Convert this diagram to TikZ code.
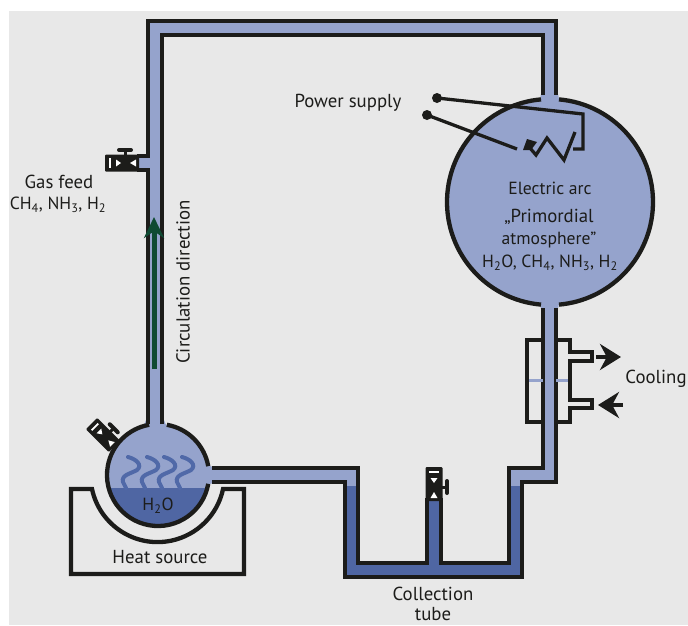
\documentclass[tikz,border=0pt]{standalone}
\usepackage{fontspec}
\setmainfont{PT Sans}
\usetikzlibrary{arrows.meta}
\definecolor{paper}{HTML}{E8E8E8}
\definecolor{gas}{HTML}{95A3CC}
\definecolor{water}{HTML}{4F66A3}
\definecolor{flame}{HTML}{5069A8}
\definecolor{ink}{HTML}{1C1C1A}
\definecolor{flow}{HTML}{0F4A33}
\newcommand{\ttap}{%
  \fill[ink,rounded corners=1pt] (-8.5,-17) rectangle (8.5,17);
  \draw[ink,line width=3pt] (7,3) -- (12,3);
  \draw[ink,line width=4pt,line cap=round] (13,-3) -- (13,9);
  \fill[white] (-5,-13) rectangle (5,-11);
  \fill[white] (-3.5,-6) -- (3.5,-6) -- (0,-1) -- cycle;
  \fill[white] (-3.5,14) -- (3.5,14) -- (0,8) -- cycle;
}
\begin{document}
\begin{tikzpicture}[
  x=1pt,y=-1pt,
  wall/.style={ink,line width=4.3pt,line join=miter},
  wire/.style={ink,line width=3.3pt},
  label/.style={text=ink,font=\fontsize{18.8}{20}\selectfont,inner sep=0pt},
  gasline/.style={text=ink,font=\fontsize{17.6}{20}\selectfont,inner sep=0pt}
]

\path[use as bounding box,clip] (0,0) rectangle (688,625);
\fill[paper] (9,11) rectangle (688,625);

% gas and water
\fill[gas] (148,21) -- (556,21) -- (556,100) -- (543,100) -- (543,35) -- (162,35) -- (162,430) -- (148,430) -- cycle;
\fill[gas] (139,156) rectangle (148,170);
\fill[gas] (541,94) -- (558,94) -- (560,104) -- (539,104) -- cycle;
\fill[gas] (543,300) rectangle (556,482);
\fill[gas] (539,298) -- (560,298) -- (558,309) -- (541,309) -- cycle;
\fill[gas] (509,468) rectangle (556,482);
\fill[gas] (509,468) rectangle (522,486);
\fill[gas] (200,468) rectangle (358,482);
\fill[gas] (345,468) rectangle (358,486);
\fill[water] (345,486) -- (358,486) -- (358,563) -- (427,563) -- (427,500) -- (441,500) -- (441,563) -- (509,563) -- (509,486) -- (522,486) -- (522,577) -- (345,577) -- cycle;

\fill[gas] (550,202) circle (103);
\fill[gas] (158,475) circle (51);
\fill[gas] (146,420) -- (164,420) -- (168,430) -- (142,430) -- cycle;
\fill[gas] (205,465) -- (214,467) -- (214,483) -- (205,485) -- cycle;
\begin{scope}
\clip (100,488) rectangle (220,530);
\fill[water] (158,475) circle (51);
\end{scope}

% flames
\foreach \fx in {0,19,36,54}
  \draw[flame,line width=4pt,line cap=round] (128+\fx,457) .. controls (136+\fx,459) and (143+\fx,465) .. (137+\fx,470) .. controls (130+\fx,474) and (121+\fx,475) .. (123+\fx,482) -- (126+\fx,488);

% pipe walls
\draw[wall] (148,424) -- (148,170) -- (137,170);
\draw[wall] (137,156) -- (148,156) -- (148,21) -- (556,21) -- (556,95);
\draw[wall] (162,424) -- (162,35) -- (543,35) -- (543,95);
\draw[wall] (556,308) -- (556,482) -- (522,482) -- (522,577) -- (345,577) -- (345,482) -- (212,482);
\draw[wall] (543,308) -- (543,468) -- (509,468) -- (509,563) -- (441,563) -- (441,498);
\draw[wall] (427,498) -- (427,563) -- (358,563) -- (358,468) -- (212,468);

% flasks
\draw[wall] (550,202) ++(275:103) arc[start angle=275,end angle=445,radius=103];
\draw[wall] (550,202) ++(95:103) arc[start angle=95,end angle=265,radius=103];
\draw[wall] (158,475) ++(280:51) arc[start angle=280,end angle=350,radius=51];
\draw[wall] (158,475) ++(10:51) arc[start angle=10,end angle=260,radius=51];

% valves
\begin{scope}[shift={(434,484)}]
\ttap
\end{scope}
\begin{scope}[shift={(122,163)},rotate=90]
\ttap
\end{scope}
\begin{scope}[shift={(103,435)},rotate=45,scale=0.95]
\ttap
\end{scope}

% heat source
\draw[wall] (71,489) -- (92,489) arc[start angle=168,end angle=12,radius=67] -- (244,489) -- (244,574) -- (71,574) -- cycle;

% cooling jacket
\draw[gas,line width=3pt] (526,380) -- (543,380) (556,380) -- (571,380);
\draw[wall] (543,340) -- (527,340) -- (527,422) -- (543,422);
\draw[wall] (556,340) -- (570,340) -- (570,352) -- (592,352) -- (592,361) -- (570,361) -- (570,400) -- (592,400) -- (592,408) -- (570,408) -- (570,422) -- (556,422);
\coordinate (outa) at (596,357);
\coordinate (outb) at (621,357);
\coordinate (ina) at (623,405);
\coordinate (inb) at (598,405);
\draw[ink,line width=4pt,-{Stealth[length=21pt,width=26pt]}] (outa) -- (outb);
\draw[ink,line width=4pt,-{Stealth[length=21pt,width=26pt]}] (ina) -- (inb);

% electrodes
\coordinate (plusa) at (437,98);
\coordinate (minusa) at (427,115);
\fill[ink] (plusa) circle (5) (minusa) circle (5);
\draw[wire] (plusa) -- (583,114) -- (583,149) -- (573,149);
\draw[wire] (minusa) -- (517,149);
\draw[wire] (530,148) -- (536,155) -- (547,138) -- (564,160) -- (575,132);
\fill[ink] (523,150) -- (527,139) -- (537,142) -- (531,150) -- cycle;

% circulation arrow
\coordinate (flowa) at (154,369);
\coordinate (flowb) at (154,217);
\draw[flow,line width=5pt,-{Stealth[length=21pt,width=20pt]}] (flowa) -- (flowb);

% labels
\node[label] (power) at (348,103) {Power supply};
\node[label] (feed) at (59,182) {Gas feed};
\node[gasline] (feedgases) at (58,205) {CH\textsubscript{4}, NH\textsubscript{3}, H\textsubscript{2}};
\node[label,rotate=90] (circ) at (183,282) {Circulation direction};
\node[gasline] (arc) at (550,188) {Electric arc};
\node[label] (prim) at (549,217) {„Primordial};
\node[gasline] (atm) at (549,240) {atmosphere”};
\node[gasline] (gases) at (550,263) {H\textsubscript{2}O, CH\textsubscript{4}, NH\textsubscript{3}, H\textsubscript{2}};
\node[label] (cool) at (656,379) {Cooling};
\node[gasline] (hto) at (158,506) {H\textsubscript{2}O};
\node[label] (heat) at (160,557) {Heat source};
\node[label] (coll) at (433,594) {Collection};
\node[label] (tube) at (433,614) {tube};

\end{tikzpicture}
\end{document}
